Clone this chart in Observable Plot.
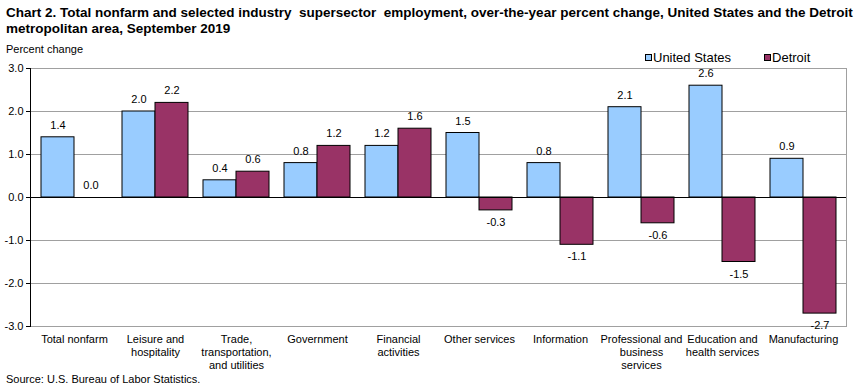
<!DOCTYPE html>
<html><head><meta charset="utf-8">
<script src="https://cdn.jsdelivr.net/npm/d3@7"></script>
<script src="https://cdn.jsdelivr.net/npm/@observablehq/plot@0.6"></script>
<style>
body{margin:0;background:#fff;font-family:"Liberation Sans",Arial,sans-serif;}
#wrap{position:relative;width:861px;height:390px;}
#title{position:absolute;left:6px;top:5px;font-weight:bold;font-size:13.5px;line-height:16px;white-space:pre;color:#000;z-index:2;}
#ylab{position:absolute;left:6px;top:43px;font-size:11px;z-index:2;}
#legend{position:absolute;top:50px;left:645px;font-size:13px;display:flex;z-index:2;}
.li{display:flex;align-items:center;}
.sw{width:5px;height:5px;border:1px solid #000;margin-right:1px;}
#src{position:absolute;left:6px;top:373px;font-size:11px;z-index:2;}
#chart{position:absolute;left:0;top:40px;z-index:1;}
</style></head>
<body><div id="wrap">
<div id="title">Chart 2. Total nonfarm and selected industry  supersector  employment, over-the-year percent change, United States and the Detroit
metropolitan area, September 2019</div>
<div id="ylab">Percent change</div>
<div id="legend"></div>
<div id="chart"></div>
<div id="src">Source: U.S. Bureau of Labor Statistics.</div>
</div>
<script>
const categories = ["Total nonfarm","Leisure and hospitality","Trade, transportation, and utilities","Government","Financial activities","Other services","Information","Professional and business services","Education and health services","Manufacturing"];
const tickLabels = ["Total nonfarm","Leisure and\nhospitality","Trade,\ntransportation,\nand utilities","Government","Financial\nactivities","Other services","Information","Professional and\nbusiness\nservices","Education and\nhealth services","Manufacturing"];
const usValues = [1.4, 2.0, 0.4, 0.8, 1.2, 1.5, 0.8, 2.1, 2.6, 0.9];
const detroitValues = [0.0, 2.2, 0.6, 1.2, 1.6, -0.3, -1.1, -0.6, -1.5, -2.7];
const seriesNames = ["United States","Detroit"];
const seriesColors = ["#99ccff","#993366"];
const yTicks = [-3,-2,-1,0,1,2,3];

const us = categories.map((c,i)=>({cat:c, series:"United States", v:usValues[i]}));
const det = categories.map((c,i)=>({cat:c, series:"Detroit", v:detroitValues[i]}));
const labelOf = new Map(categories.map((c,i)=>[c,tickLabels[i]]));

const legend = document.getElementById("legend");
seriesNames.forEach((s,i)=>{
  const d=document.createElement("div");d.className="li";
  d.style.marginRight = i===0 ? "33px" : "0";
  d.innerHTML=`<div class="sw" style="background:${seriesColors[i]}"></div><span>${s}</span>`;
  legend.appendChild(d);
});

const half = 33;
const fmt = d => d.toFixed(1);
const plot = Plot.plot({
  width: 861, height: 350,
  marginLeft: 30, marginRight: 15, marginTop: 28, marginBottom: 64,
  style: {fontFamily: '"Liberation Sans", Arial, sans-serif', fontSize: "11px", color:"#000", background:"transparent"},
  x: {domain: categories, paddingInner: 0.19, paddingOuter: 0.095, axis: null, label: null},
  y: {domain: [-3, 3], axis: null, label: null},
  color: {domain: seriesNames, range: seriesColors},
  marks: [
    Plot.ruleY(yTicks.filter(d=>d!==0), {stroke:"#a0a0a0", strokeOpacity:1}),
    Plot.frame({stroke:"#a0a0a0"}),
    Plot.barY(us, {x:"cat", y:"v", fill:"series", stroke:"#000", strokeWidth:1, insetRight: half}),
    Plot.barY(det, {x:"cat", y:"v", fill:"series", stroke:"#000", strokeWidth:1, insetLeft: half}),
    Plot.ruleY([0], {stroke:"#000"}),
    Plot.frame({anchor:"left", stroke:"#000"}),
    Plot.axisY({ticks: yTicks, tickFormat: fmt, tickSize: 4, tickPadding: 3, anchor:"left", label: null}),
    Plot.axisX({tickSize: 0, tickPadding: 8, tickFormat: d=>labelOf.get(d), lineHeight: 1.15, fontSize: 11, label: null}),
    Plot.text(us.filter(d=>d.v>=0), {x:"cat", y:"v", text:d=>fmt(d.v), dx:-half/2, dy:-12}),
    Plot.text(us.filter(d=>d.v<0), {x:"cat", y:"v", text:d=>fmt(d.v), dx:-half/2, dy:12}),
    Plot.text(det.filter(d=>d.v>=0), {x:"cat", y:"v", text:d=>fmt(d.v), dx:half/2, dy:-12}),
    Plot.text(det.filter(d=>d.v<0), {x:"cat", y:"v", text:d=>fmt(d.v), dx:half/2, dy:12})
  ]
});
document.getElementById("chart").appendChild(plot);
</script>
</body></html>
